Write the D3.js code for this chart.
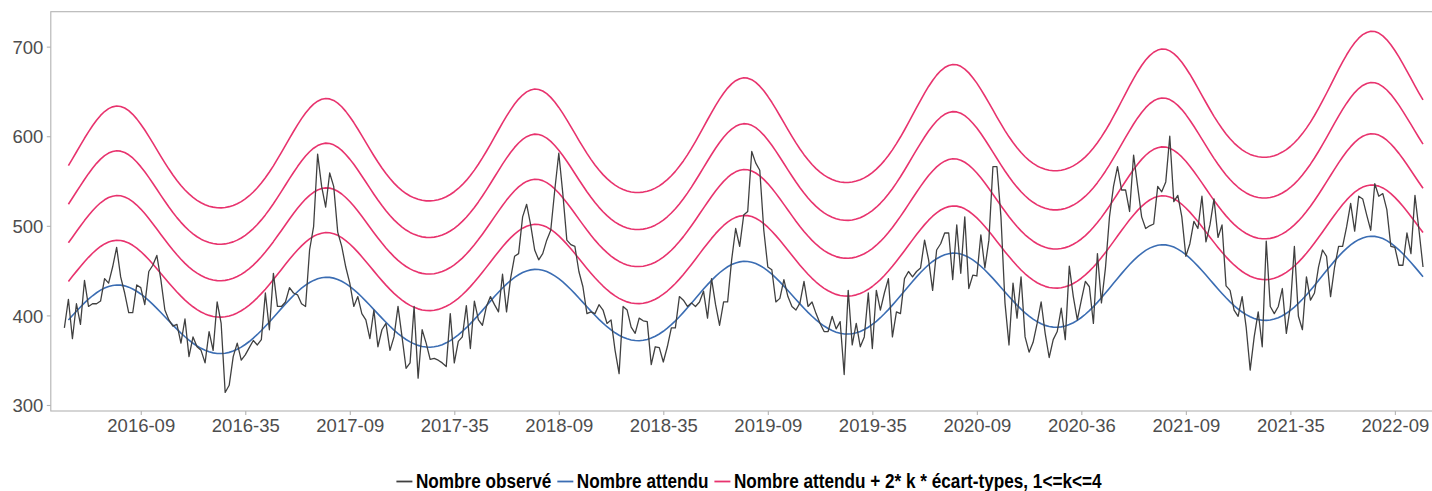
<!DOCTYPE html>
<html><head><meta charset="utf-8">
<script src="https://cdn.jsdelivr.net/npm/d3@7/dist/d3.min.js"></script>
<style>
html,body{margin:0;padding:0;background:#fff;}
svg{display:block;}
</style></head><body>
<svg id="chart" width="1432" height="491"></svg>
<script>
// index 0 = semaine 2016-09 ; one step = one week
const observeStart = -19;
const observe = [
386,418,374,413,390,439,410,413,413,416,
441,436,454,476,443,425,403,403,434,431,
412,449,456,467,440,406,395,388,390,369,
396,354,376,365,361,347,382,361,415,391,
314,322,354,369,350,356,364,372,367,373,
425,384,447,410,410,415,431,425,423,413,
410,473,499,580,544,521,559,544,493,477,
454,436,410,421,402,395,374,406,365,384,
391,361,376,410,376,341,347,410,330,384,
369,351,352,350,347,343,402,347,371,376,
411,363,416,395,389,410,421,412,404,446,
404,441,466,469,510,524,501,473,462,469,
484,495,540,581,536,484,479,477,449,432,
402,404,402,412,406,391,395,361,335,410,
406,387,380,397,394,393,345,365,364,348,
365,386,386,421,417,410,414,410,415,427,
397,441,412,389,415,415,462,497,477,512,
516,583,570,562,495,454,451,415,419,440,
421,410,406,414,438,410,415,402,391,382,
382,399,385,393,334,428,367,391,365,376,
425,363,428,406,425,441,376,404,402,441,
449,443,449,453,484,462,428,473,480,492,
492,440,501,447,510,430,445,444,490,453,
484,566,566,510,414,367,436,397,443,376,
359,370,391,415,380,353,373,382,408,373,
455,421,395,417,438,432,391,469,414,453,
510,544,566,540,540,516,579,544,510,497,
500,502,544,538,549,600,527,534,510,466,
480,505,497,533,482,501,530,487,501,433,
428,406,399,421,387,339,376,404,365,483,
410,402,410,430,380,410,477,399,384,443,
417,425,454,473,466,421,454,477,477,499,
525,494,533,530,512,495,547,533,536,518,
477,476,456,456,492,469,534,495,454];

const attenduStart = -18;
const attendu = [
394.90,399.86,404.73,409.45,413.94,418.12,421.93,425.30,428.19,430.52,432.26,433.36,
433.94,433.78,432.99,431.57,429.55,426.99,423.92,420.41,416.52,412.31,407.86,403.25,398.55,393.83,389.17,384.64,380.29,376.18,372.38,368.93,365.87,363.24,361.07,359.39,358.21,357.55,357.42,357.82,358.75,360.20,362.16,364.60,367.52,370.87,374.62,378.74,383.15,387.82,392.69,397.69,402.76,407.82,412.79,417.60,422.18,426.44,430.33,433.77,436.71,439.09,440.86,441.99,
442.58,442.41,441.61,440.16,438.10,435.49,432.36,428.78,424.81,420.52,415.98,411.28,406.48,401.67,396.92,392.30,387.86,383.67,379.79,376.27,373.15,370.47,368.26,366.54,365.34,364.67,364.53,364.94,365.89,367.37,369.37,371.86,374.84,378.25,382.08,386.28,390.78,395.54,400.51,405.61,410.78,415.94,421.01,425.91,430.58,434.93,438.90,442.40,445.40,447.83,449.64,450.79,
451.39,451.22,450.40,448.92,446.82,444.16,440.96,437.31,433.27,428.89,424.26,419.46,414.57,409.66,404.82,400.10,395.58,391.30,387.35,383.76,380.58,377.84,375.59,373.84,372.61,371.92,371.79,372.21,373.17,374.68,376.72,379.26,382.30,385.78,389.68,393.97,398.55,403.41,408.48,413.68,418.95,424.22,429.39,434.39,439.15,443.59,447.63,451.21,454.27,456.74,458.58,459.76,
460.37,460.20,459.36,457.86,455.71,453.00,449.74,446.02,441.89,437.42,432.70,427.81,422.83,417.82,412.87,408.07,403.45,399.09,395.06,391.40,388.15,385.36,383.06,381.28,380.03,379.33,379.19,379.61,380.60,382.14,384.22,386.81,389.91,393.46,397.44,401.81,406.49,411.44,416.61,421.91,427.29,432.66,437.93,443.04,447.89,452.41,456.54,460.19,463.31,465.83,467.71,468.91,
469.53,469.36,468.51,466.97,464.78,462.01,458.69,454.89,450.68,446.13,441.31,436.33,431.24,426.13,421.09,416.19,411.48,407.04,402.92,399.19,395.88,393.03,390.69,388.87,387.59,386.88,386.74,387.17,388.18,389.75,391.87,394.51,397.67,401.29,405.35,409.81,414.58,419.63,424.90,430.31,435.80,441.27,446.65,451.85,456.81,461.42,465.63,469.35,472.53,475.11,477.02,478.24,
478.88,478.70,477.83,476.26,474.03,471.21,467.82,463.95,459.66,455.01,450.10,445.01,439.82,434.62,429.47,424.47,419.67,415.14,410.94,407.14,403.76,400.86,398.46,396.61,395.31,394.58,394.43,394.88,395.90,397.50,399.67,402.36,405.58,409.28,413.42,417.96,422.83,427.98,433.36,438.88,444.47,450.05,455.54,460.85,465.90,470.60,474.90,478.69,481.94,484.56,486.52,487.76,
488.41,488.23,487.34,485.74,483.47,480.59,477.13,473.18,468.80,464.07,459.06,453.87,448.58,443.27];

const ecartType = [
21.54,21.86,22.21,22.58,22.97,23.35,23.72,24.07,24.38,24.63,24.82,24.93,
24.97,24.93,24.81,24.62,24.36,24.05,23.69,23.32,22.92,22.53,22.15,21.79,21.47,21.19,20.95,20.75,20.60,20.48,20.40,20.35,20.32,20.31,20.31,20.32,20.33,20.33,20.33,20.33,20.33,20.31,20.31,20.30,20.31,20.34,20.39,20.46,20.58,20.73,20.93,21.16,21.45,21.76,22.12,22.50,22.89,23.28,23.66,24.02,24.33,24.59,24.78,24.90,
24.95,24.91,24.80,24.60,24.35,24.03,23.68,23.31,22.91,22.52,22.15,21.79,21.47,21.19,20.96,20.76,20.61,20.50,20.43,20.39,20.36,20.36,20.37,20.38,20.39,20.40,20.41,20.41,20.41,20.40,20.39,20.39,20.40,20.43,20.48,20.55,20.67,20.83,21.03,21.27,21.56,21.88,22.25,22.63,23.04,23.44,23.82,24.19,24.51,24.77,24.98,25.10,
25.16,25.12,25.01,24.82,24.57,24.25,23.90,23.52,23.13,22.74,22.36,22.00,21.69,21.40,21.17,20.98,20.84,20.73,20.66,20.62,20.60,20.60,20.62,20.63,20.65,20.66,20.68,20.68,20.68,20.67,20.67,20.67,20.69,20.72,20.77,20.85,20.98,21.13,21.34,21.59,21.89,22.23,22.60,23.00,23.41,23.83,24.22,24.60,24.93,25.21,25.42,25.55,
25.61,25.58,25.47,25.28,25.02,24.71,24.35,23.98,23.58,23.18,22.80,22.45,22.13,21.84,21.61,21.42,21.28,21.17,21.10,21.07,21.05,21.06,21.08,21.09,21.12,21.14,21.15,21.16,21.17,21.16,21.16,21.17,21.18,21.22,21.28,21.37,21.50,21.67,21.89,22.15,22.46,22.81,23.20,23.61,24.03,24.46,24.88,25.26,25.61,25.90,26.12,26.26,
26.32,26.30,26.19,26.00,25.74,25.42,25.07,24.68,24.28,23.88,23.50,23.13,22.81,22.52,22.28,22.09,21.95,21.84,21.77,21.74,21.73,21.73,21.75,21.78,21.80,21.82,21.84,21.86,21.87,21.87,21.88,21.89,21.91,21.96,22.03,22.13,22.27,22.45,22.68,22.95,23.28,23.64,24.05,24.47,24.92,25.37,25.80,26.20,26.56,26.86,27.09,27.24,
27.31,27.29,27.18,26.99,26.74,26.42,26.05,25.66,25.25,24.84,24.45,24.08,23.75,23.45,23.21,23.01,22.86,22.75,22.68,22.65,22.63,22.64,22.66,22.69,22.72,22.74,22.77,22.78,22.80,22.81,22.83,22.84,22.87,22.93,23.01,23.12,23.28,23.47,23.72,24.02,24.36,24.74,25.16,25.61,26.08,26.55,27.00,27.42,27.80,28.11,28.36,28.51,
28.59,28.58,28.48,28.28,28.02,27.69,27.32,26.92,26.50,26.08,25.68,25.29,24.95,24.65];

const kValues = [1,2,3,4];
const tickIndex = [0,26,52,78,104,130,156,182,208,234,260,286,312];
const tickLabels = ["2016-09","2016-35","2017-09","2017-35","2018-09","2018-35","2019-09","2019-35","2020-09","2020-36","2021-09","2021-35","2022-09"];
const yTicks = [300,400,500,600,700];
const legendLabels = ["Nombre observé","Nombre attendu","Nombre attendu + 2* k * écart-types, 1<=k<=4"];
const seriesColors = ["#404040","#3b6db3","#e8336e"];

const svg = d3.select("#chart");
const panel = {left:50.8, right:1436.6, top:11.7, bottom:411};
const firstI = observeStart, lastI = observeStart + observe.length - 1;
const padI = (lastI - firstI) * 0.01;
const x = d3.scaleLinear().domain([firstI - padI, lastI + padI]).range([panel.left, panel.right]);
const y = d3.scaleLinear().domain([293.3, 739]).range([panel.bottom, panel.top]);

svg.append("defs").append("clipPath").attr("id","clip")
  .append("rect").attr("x",panel.left).attr("y",panel.top)
  .attr("width",panel.right-panel.left).attr("height",panel.bottom-panel.top);

const obsData = observe.map((v,k)=>({i:observeStart+k, v}));
const expData = attendu.map((v,k)=>({i:attenduStart+k, v, sd:ecartType[k]}));

const line = d3.line().x(d=>x(d.i)).y(d=>y(d.v));
const g = svg.append("g").attr("clip-path","url(#clip)");

kValues.forEach(k=>{
  g.append("path").datum(expData.map(d=>({i:d.i, v:d.v + 2*k*d.sd})))
   .attr("d", line).attr("fill","none").attr("stroke",seriesColors[2])
   .attr("stroke-width",1.6).attr("stroke-linejoin","round");
});
g.append("path").datum(expData).attr("d",line).attr("fill","none")
 .attr("stroke",seriesColors[1]).attr("stroke-width",1.6);
g.append("path").datum(obsData).attr("d",line).attr("fill","none")
 .attr("stroke",seriesColors[0]).attr("stroke-width",1.3).attr("stroke-linejoin","round");

// panel border
svg.append("rect").attr("x",panel.left).attr("y",panel.top)
  .attr("width",panel.right-panel.left).attr("height",panel.bottom-panel.top)
  .attr("fill","none").attr("stroke","#b3b3b3").attr("stroke-width",1.1);

const font = "'Liberation Sans', Arial, Helvetica, sans-serif";
const yAxis = svg.append("g").attr("transform",`translate(${panel.left},0)`)
  .call(d3.axisLeft(y).tickValues(yTicks).tickSize(4).tickPadding(3.5));
const xAxis = svg.append("g").attr("transform",`translate(0,${panel.bottom})`)
  .call(d3.axisBottom(x).tickValues(tickIndex).tickFormat((d,k)=>tickLabels[k]).tickSize(4).tickPadding(4));
[yAxis,xAxis].forEach(a=>{
  a.select(".domain").remove();
  a.selectAll(".tick line").attr("stroke","#b3b3b3").attr("stroke-width",1.1);
  a.selectAll(".tick text").attr("fill","#4d4d4d").style("font-family",font).style("font-size","18.5px");
});
yAxis.selectAll(".tick text").attr("dy","0.36em");

// legend (bold text, horizontally condensed)
const lg = svg.append("g");
const condense = 0.88, keyLen = 16, keyGap = 3.5, itemGap = 6;
let cx = 0;
legendLabels.forEach((lab,k)=>{
  const it = lg.append("g").attr("transform",`translate(${cx},0)`);
  it.append("line").attr("x1",0).attr("x2",keyLen).attr("y1",-6).attr("y2",-6)
    .attr("stroke",seriesColors[k]).attr("stroke-width",1.8);
  const t = it.append("text").attr("x",keyLen+keyGap).attr("y",0)
    .style("font-family",font).style("font-weight","bold").style("font-size","19.5px")
    .attr("fill","#000").text(lab);
  const natural = t.node().getComputedTextLength();
  const w = natural*condense;
  t.attr("textLength",w).attr("lengthAdjust","spacingAndGlyphs");
  cx += keyLen + keyGap + w + itemGap;
});
const totalW = cx - itemGap;
lg.attr("transform",`translate(${749 - totalW/2},487.5)`);
</script>
</body></html>
